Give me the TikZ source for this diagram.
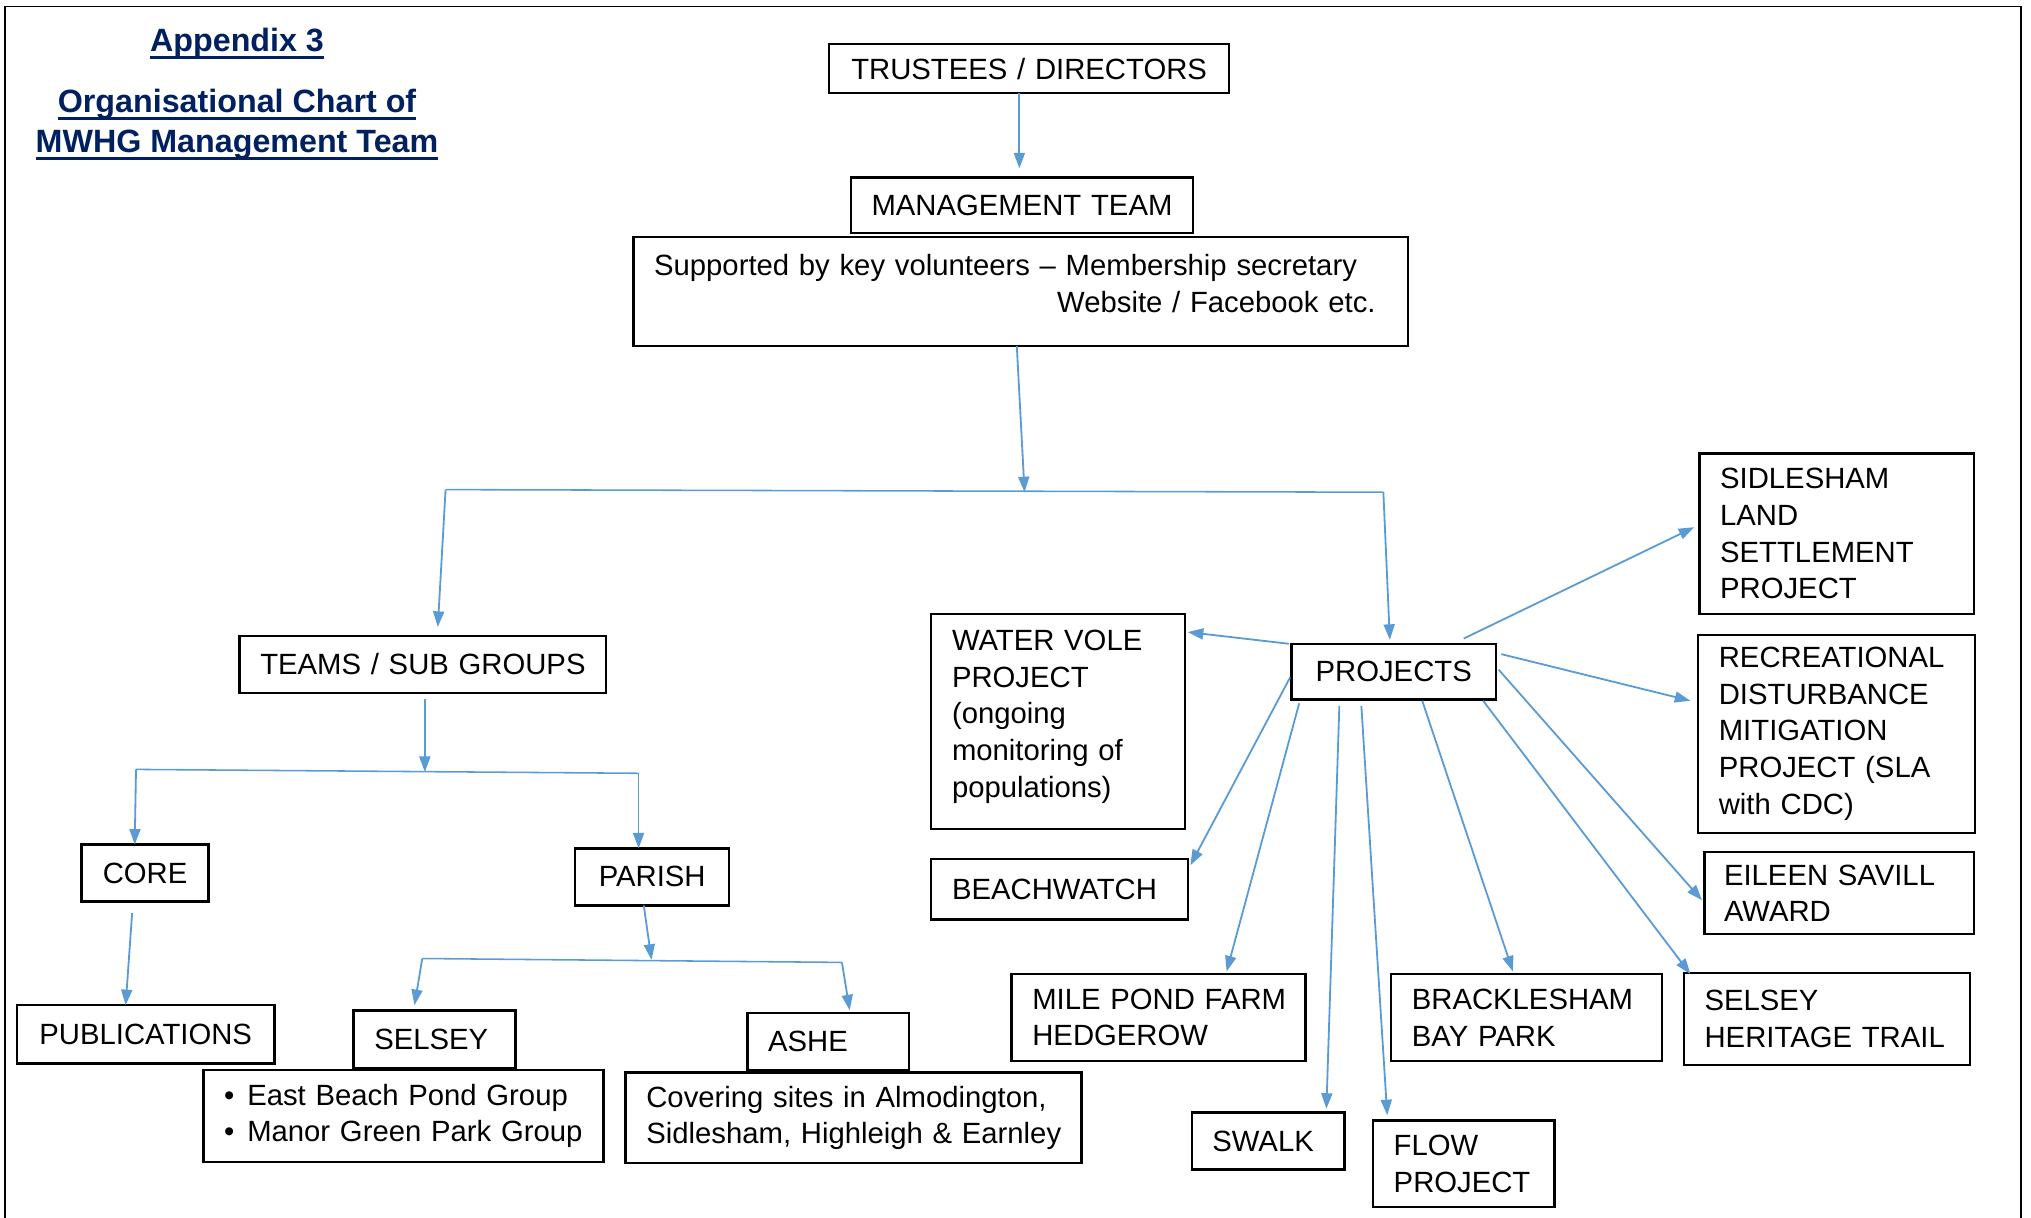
\documentclass[tikz,border=0pt]{standalone}
\usepackage{fontspec}
\setmainfont{Liberation Sans}
\usetikzlibrary{arrows.meta,calc}
\definecolor{arrowblue}{HTML}{5B9BD5}
\definecolor{titlenavy}{HTML}{002060}
\newcommand{\titleul}[1]{\vtop{\hbox{#1}\kern-2pt\hrule height 2pt}}
\newcommand{\boxfs}{\fontsize{22.6pt}{28.3pt}\selectfont}
\newcommand{\titlefs}{\fontsize{24.9pt}{32pt}\selectfont\bfseries}
\begin{document}
\begin{tikzpicture}[x=1pt,y=-1pt,
  bx/.style={draw, line width=1.8pt, font=\boxfs, inner ysep=0pt, outer sep=0pt, anchor=north west},
  lbox/.style={bx, inner xsep=16pt, align=left},
  cbox/.style={bx, inner xsep=4pt, align=center},
  ttl/.style={font=\titlefs, text=titlenavy, inner sep=0pt, anchor=base},
  arr/.style={draw=arrowblue, line width=1.4pt, -{Triangle[length=12pt,width=8.5pt]}},
  ln/.style={draw=arrowblue, line width=1.2pt}
]
\useasboundingbox (0,0) rectangle (1568,940);
\draw[line width=1.5pt] (4,940) -- (4,5) -- (1560,5) -- (1560,940);

% titles
\node[ttl] (app) at (183,40) {\titleul{Appendix 3}};
\node[ttl] (org) at (183,87) {\titleul{Organisational Chart of}};
\node[ttl] (mwhg) at (183,118) {\titleul{MWHG Management Team}};

% top
\node[cbox, text width=301pt, minimum height=38pt] (trust) at (640,34) {TRUSTEES / DIRECTORS};
\node[cbox, text width=256pt, minimum height=43pt] (mgmt) at (657,137) {MANAGEMENT TEAM};
\node[lbox, text width=566pt, minimum height=84pt] (supp) at (489,183)
  {\mbox{Supported by key volunteers -- Membership secretary}\\\makebox[\linewidth][r]{Website / Facebook etc.\hspace{9pt}}\\[-16pt]\mbox{}};

% left branch
\node[cbox, text width=275pt, minimum height=44pt] (teams) at (185,491) {TEAMS / SUB GROUPS};
\node[cbox, text width=90pt, minimum height=44pt] (core) at (63,652) {CORE};
\node[cbox, text width=111pt, minimum height=44pt] (parish) at (444,655) {PARISH};
\node[cbox, text width=191pt, minimum height=45pt] (pubs) at (13,776) {PUBLICATIONS};
\node[lbox, text width=93pt, minimum height=45pt] (selsey) at (273,780) {SELSEY};
\node[lbox, text width=93pt, minimum height=44pt] (ashe) at (577,782) {ASHE};
\node[lbox, text width=277pt, minimum height=71pt] (sbul) at (157,826)
  {\mbox{\textbullet\hspace{10pt}East Beach Pond Group}\\\mbox{\textbullet\hspace{10pt}Manor Green Park Group}};
\node[lbox, text width=320pt, minimum height=70pt] (adesc) at (483,828)
  {\mbox{Covering sites in Almodington,}\\\mbox{Sidlesham, Highleigh \& Earnley}};

% projects branch
\node[lbox, text width=164pt, minimum height=166pt] (wv) at (719,474)
  {WATER VOLE\\PROJECT\\(ongoing\\\mbox{monitoring of}\\populations)\\[-16pt]\mbox{}};
\node[lbox, text width=166pt, minimum height=47pt] (beach) at (719,663) {BEACHWATCH};
\node[cbox, text width=150pt, minimum height=43pt] (proj) at (997,497) {PROJECTS};
\node[lbox, text width=180pt, minimum height=124pt] (sidl) at (1312,350)
  {SIDLESHAM\\LAND\\SETTLEMENT\\PROJECT};
\node[lbox, text width=182pt, minimum height=153pt] (recr) at (1311,490)
  {\mbox{RECREATIONAL}\\\mbox{DISTURBANCE}\\MITIGATION\\\mbox{PROJECT (SLA}\\with CDC)};
\node[lbox, text width=178pt, minimum height=63pt, inner xsep=15pt] (eileen) at (1316,658)
  {\mbox{EILEEN SAVILL}\\AWARD};
\node[lbox, text width=189pt, minimum height=71pt] (sher) at (1300,751)
  {SELSEY\\\mbox{HERITAGE TRAIL}};
\node[lbox, text width=195pt, minimum height=67pt] (mile) at (781,752)
  {\mbox{MILE POND FARM}\\HEDGEROW};
\node[lbox, text width=177pt, minimum height=67pt] (brack) at (1074,752)
  {\mbox{BRACKLESHAM}\\\mbox{BAY PARK}};
\node[lbox, text width=86pt, minimum height=44pt] (swalk) at (920,859) {SWALK};
\node[lbox, text width=108pt, minimum height=67pt] (flow) at (1060,865) {FLOW\\PROJECT};

% junctions
\coordinate (j1) at (791,380);
\coordinate (j1l) at (344,378);
\coordinate (j1r) at (1068,380);
\coordinate (j2) at (328,596);
\coordinate (j2l) at (105,594);
\coordinate (j2r) at (493,597);
\coordinate (j3) at (503,741);
\coordinate (j3l) at (326,740);
\coordinate (j3r) at (650,743);

% connectors
\draw[arr] ($(trust.south)+(-7.5,0)$) -- ($(mgmt.north)+(-2,-7)$);
\draw[arr] ($(supp.south)+(-3,0)$) -- (j1);
\draw[ln] (j1l) -- (j1r);
\draw[arr] (j1l) -- ($(teams.north)+(11.5,-7)$);
\draw[arr] (j1r) -- ($(proj.north)+(-3,-3)$);
\draw[arr] ($(teams.south)+(1.5,5)$) -- (j2);
\draw[ln] (j2l) -- (j2r);
\draw[arr] (j2l) -- ($(core.north)+(-8,0)$);
\draw[arr] (j2r) -- ($(parish.north)+(-10.5,0)$);
\draw[arr] ($(core.south)+(-10,9)$) -- ($(pubs.north)+(-15.5,0)$);
\draw[arr] ($(parish.south)+(-6.5,0)$) -- (j3);
\draw[ln] (j3l) -- (j3r);
\draw[arr] (j3l) -- ($(selsey.north)+(-15.5,-4)$);
\draw[arr] (j3r) -- ($(ashe.north)+(16.5,-2)$);

\draw[arr] ($(proj.north west)+(-2,0)$) -- ($(wv.north east)+(2,14)$);
\draw[arr] ($(proj.west)+(-1,4.5)$) -- ($(beach.north east)+(2,5)$);
\draw[arr] ($(proj.south west)+(6,3)$) -- ($(mile.north)+(52.5,-2)$);
\draw[arr] ($(proj.south west)+(37,5)$) -- ($(swalk.north)+(45,-3)$);
\draw[arr] ($(proj.south west)+(54,5)$) -- ($(flow.north west)+(11,-4)$);
\draw[arr] ($(proj.south)+(22,1)$) -- ($(brack.north)+(-10.5,-2)$);
\draw[arr] ($(proj.south east)+(-10,1)$) -- ($(sher.north west)+(5,1)$);
\draw[arr] ($(proj.east)+(2,-1.5)$) -- ($(eileen.west)+(-2,5.5)$);
\draw[arr] ($(proj.north east)+(4,8)$) -- ($(recr.west)+(-6,-25.5)$);
\draw[arr] ($(proj.north east)+(-25,-4)$) -- ($(sidl.west)+(-4,-5)$);
\end{tikzpicture}
\end{document}
